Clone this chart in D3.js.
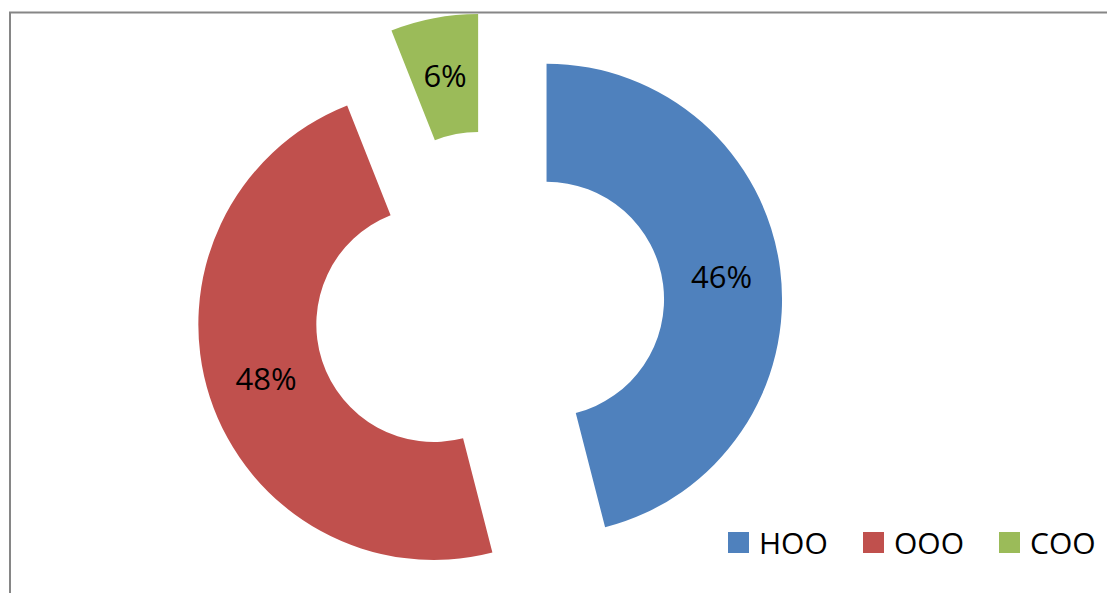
<!DOCTYPE html>
<html>
<head>
<meta charset="utf-8">
<script src="https://cdn.jsdelivr.net/npm/d3@7"></script>
<style>
  html, body { margin: 0; padding: 0; background: #fff; }
  svg { display: block; }
</style>
</head>
<body>
<div id="chart"></div>
<script>
// Chart data
const categories = ['HOO', 'OOO', 'COO'];
const values = [46, 48, 6];
const colors = ['#4F81BD', '#C0504D', '#9BBB59'];

const width = 1107;
const height = 593;
const center = {x: 489, y: 306.5};
const outerR = 235.5;
const innerR = 117.5;
const explode = 58;

const svg = d3.select('#chart')
    .append('svg')
    .attr('width', width)
    .attr('height', height);

// Chart frame (runs off the right and bottom edge)
svg.append('rect')
    .attr('x', 10)
    .attr('y', 12.5)
    .attr('width', width + 20)
    .attr('height', height + 20)
    .attr('fill', '#fff')
    .attr('stroke', '#868686')
    .attr('stroke-width', 2);

const data = categories.map((c, i) => ({name: c, value: values[i], color: colors[i]}));

const pie = d3.pie()
    .sort(null)
    .value(d => d.value)
    .startAngle(0)
    .endAngle(2 * Math.PI);

const arc = d3.arc()
    .innerRadius(innerR)
    .outerRadius(outerR);

const arcs = pie(data);

const g = svg.append('g')
    .attr('transform', `translate(${center.x}, ${center.y})`);

// Exploded slices
const slices = g.selectAll('.slice')
    .data(arcs)
    .enter()
    .append('g')
    .attr('class', 'slice')
    .attr('transform', d => {
        const mid = (d.startAngle + d.endAngle) / 2;
        return `translate(${Math.sin(mid) * explode}, ${-Math.cos(mid) * explode})`;
    });

slices.append('path')
    .attr('d', arc)
    .attr('fill', d => d.data.color);

slices.append('text')
    .attr('transform', d => `translate(${arc.centroid(d)})`)
    .attr('text-anchor', 'middle')
    .attr('dy', '0.36em')
    .attr('font-family', '"Open Sans", sans-serif')
    .attr('font-size', '31px')
    .attr('fill', '#000')
    .text(d => `${d.data.value}%`);

// Legend
const legendX = [728, 863, 999];
const legend = svg.selectAll('.legend-item')
    .data(data)
    .enter()
    .append('g')
    .attr('class', 'legend-item')
    .attr('transform', (d, i) => `translate(${legendX[i]}, 532)`);

legend.append('rect')
    .attr('width', 21)
    .attr('height', 21)
    .attr('fill', d => d.color);

legend.append('text')
    .attr('x', 31)
    .attr('y', 21.5)
    .attr('font-family', '"Open Sans", sans-serif')
    .attr('font-size', '30px')
    .attr('fill', '#000')
    .text(d => d.name);
</script>
</body>
</html>
